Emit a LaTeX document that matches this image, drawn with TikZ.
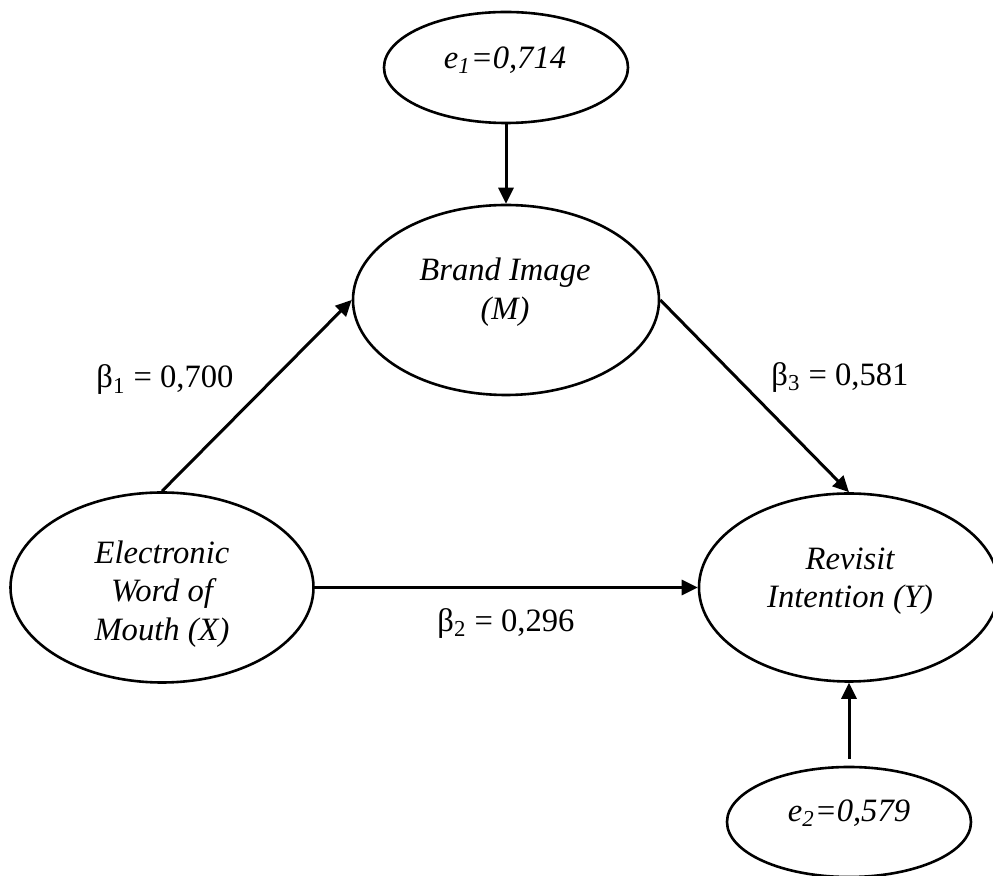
\documentclass[tikz,border=0pt]{standalone}
\usepackage{fontspec}
\setmainfont{Liberation Serif}
\usetikzlibrary{shapes.geometric,arrows.meta}
\begin{document}
\begin{tikzpicture}[x=0.5pt,y=-0.5pt,
  ell/.style={draw, ellipse, line width=1.3pt, inner sep=0pt},
  txt/.style={font=\fontsize{16.3}{19.3}\selectfont\itshape, align=center, inner sep=0pt},
  lab/.style={font=\fontsize{16.3}{19.3}\selectfont, inner sep=0pt},
  arr/.style={line width=1.5pt, -{Triangle[length=8pt,width=7.5pt]}}]
\useasboundingbox (0,0) rectangle (993,876);
% ellipses
\node[ell, minimum width=122pt, minimum height=55.5pt] (e1) at (506,67.5) {};
\node[ell, minimum width=153pt, minimum height=95pt] (M) at (506,300) {};
\node[ell, minimum width=151.5pt, minimum height=95pt] (X) at (162,587.5) {};
\node[ell, minimum width=150pt, minimum height=94pt] (Y) at (849,587.5) {};
\node[ell, minimum width=122pt, minimum height=55pt] (e2) at (849,822) {};
% texts
\node[txt] (e1t) at (505,60) {e\textsubscript{1}=0,714};
\node[txt] (Mt) at (505,292) {Brand Image\\(M)};
\node[txt] (Xt) at (162,594) {Electronic\\Word of\\Mouth (X)};
\node[txt] (Yt) at (850,581) {Revisit\\Intention (Y)};
\node[txt] (e2t) at (849,813) {e\textsubscript{2}=0,579};
% labels
\node[lab] (b1) at (165,380) {β\textsubscript{1} = 0,700};
\node[lab] (b2) at (506,623) {β\textsubscript{2} = 0,296};
\node[lab] (b3) at (840,377) {β\textsubscript{3} = 0,581};
% arrows
\draw[arr] (e1.south) -- (M.north);
\draw[arr] (X.north) -- (M.west);
\draw[arr] (M.east) -- (Y.north);
\draw[arr] (X.east) -- (Y.west);
\draw[arr, shorten <=3.5pt] (e2.north) -- (Y.south);
\end{tikzpicture}
\end{document}
